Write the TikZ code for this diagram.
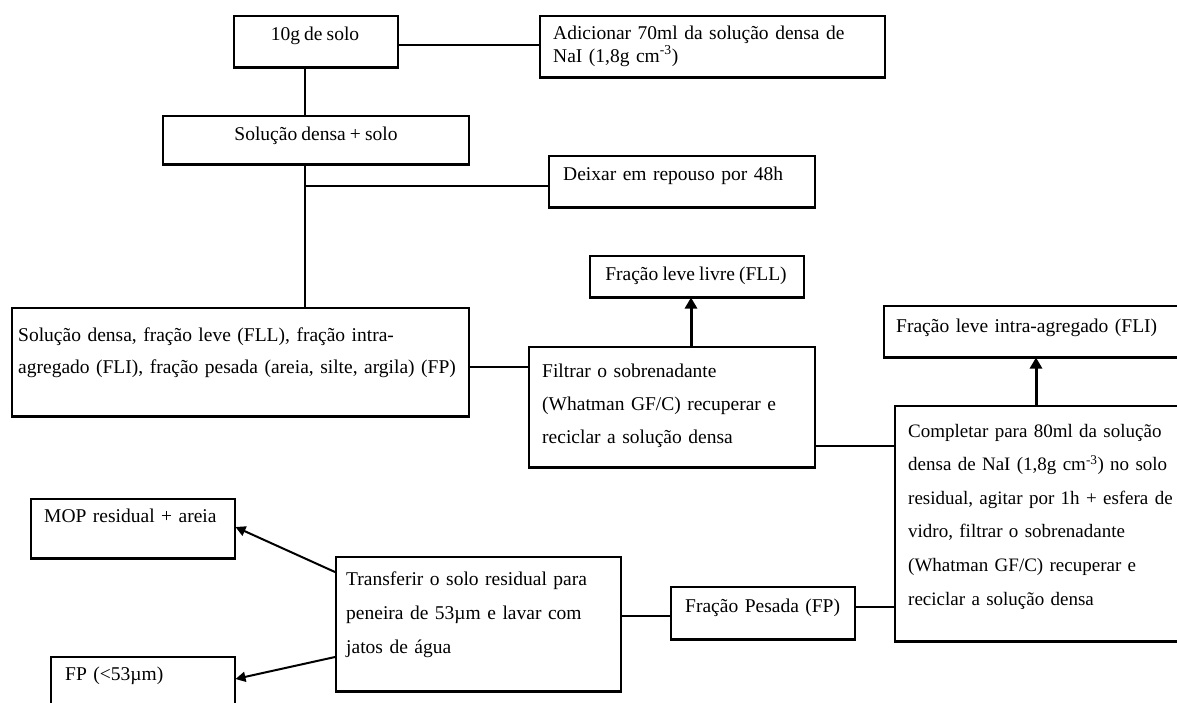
\documentclass[tikz,border=0pt]{standalone}
\usepackage{fontspec}
\setmainfont{Liberation Serif}[WordSpace=0.85]
\usetikzlibrary{arrows.meta,calc}
\begin{document}
\begin{tikzpicture}[x=1pt,y=-1pt,
  box/.style={draw, line width=1.5pt, inner sep=0pt, anchor=north west},
  txt/.style={inner sep=0pt, font=\fontsize{19.5pt}{33pt}\selectfont, align=left, text width=560pt, anchor=base west},
  ctxt/.style={inner sep=0pt, font=\fontsize{19.5pt}{23pt}\selectfont, anchor=base},
  ln/.style={line width=2.2pt},
  bot/.style={line width=2.4pt},
  arr/.style={line width=3pt, -{Triangle[width=12pt,length=11pt]}},
  darr/.style={line width=2pt, -{Triangle[width=10pt,length=10pt]}}]
\useasboundingbox (0,0) rectangle (1177,702);

% boxes
\node[box, minimum width=164pt, minimum height=51pt]  (b1)   at (233,15)  {};
\node[box, minimum width=345pt, minimum height=61pt]  (b2)   at (539,15)  {};
\node[box, minimum width=306pt, minimum height=48pt]  (b3)   at (162,115) {};
\node[box, minimum width=266pt, minimum height=51pt]  (dx)   at (548,155) {};
\node[box, minimum width=214pt, minimum height=41pt]  (fll)  at (589,255) {};
\node[box, minimum width=457pt, minimum height=108pt] (b5)   at (11,307)  {};
\node[box, minimum width=286pt, minimum height=120pt] (fil)  at (528,346) {};
\node[box, minimum width=330pt, minimum height=51pt]  (fli)  at (883,305) {};
\node[box, minimum width=310pt, minimum height=235pt] (comp) at (894,405) {};
\node[box, minimum width=184pt, minimum height=52pt]  (fp)   at (670,586) {};
\node[box, minimum width=285pt, minimum height=134pt] (tr)   at (335,556) {};
\node[box, minimum width=204pt, minimum height=59pt]  (mop)  at (30,498)  {};
\node[box, minimum width=184pt, minimum height=90pt]  (fps)  at (50,656)  {};

\foreach \n in {b1,b2,b3,dx,fll,b5,fil,fli,comp,fp,tr,mop}
  \draw[bot] (\n.south west) -- (\n.south east);

% texts
\node[ctxt] (t1) at (315,40) {10g de solo};
\node[txt, font=\fontsize{19.5pt}{23pt}\selectfont] (t2) at (553,39)
  {Adicionar 70ml da solução densa de\\NaI (1,8g cm\textsuperscript{-3})};
\node[ctxt] (t3) at (316,140) {Solução densa + solo};
\node[txt] (tdx) at (563,180) {Deixar em repouso por 48h};
\node[ctxt] (tfll) at (696,280) {Fração leve livre (FLL)};
\node[txt, font=\fontsize{19.5pt}{32pt}\selectfont] (t5) at (18,341)
  {Solução densa, fração leve (FLL), fração intra-\\agregado (FLI), fração pesada (areia, silte, argila) (FP)};
\node[txt, font=\fontsize{19.5pt}{33.3pt}\selectfont] (tfil) at (542,377)
  {Filtrar o sobrenadante\\(Whatman GF/C) recuperar e\\reciclar a solução densa};
\node[txt] (tfli) at (896,332) {Fração leve intra-agregado (FLI)};
\node[txt, font=\fontsize{19pt}{33.6pt}\selectfont] (tcomp) at (908,437)
  {Completar para 80ml da solução\\densa de NaI (1,8g cm\textsuperscript{-3}) no solo\\residual, agitar por 1h + esfera de\\vidro, filtrar o sobrenadante\\(Whatman GF/C) recuperar e\\reciclar a solução densa};
\node[txt] (tfp) at (685,612) {Fração Pesada (FP)};
\node[txt, font=\fontsize{19.5pt}{34pt}\selectfont] (ttr) at (346,585)
  {Transferir o solo residual para\\peneira de 53µm e lavar com\\jatos de água};
\node[txt] (tmop) at (44,522) {MOP residual + areia};
\node[txt] (tfps) at (65,680) {FP (<53µm)};

% connectors
\coordinate (h1) at (0,45);
\draw[ln] (b1.east |- h1) -- (b2.west |- h1);
\coordinate (sp) at (305,0);
\draw[ln] (sp |- b1.south) -- (sp |- b3.north);
\draw[ln] (sp |- b3.south) -- (sp |- b5.north);
\coordinate (j1) at (305,186);
\draw[ln] (j1) -- (j1 -| dx.west);
\coordinate (h2) at (0,367);
\draw[ln] (b5.east |- h2) -- (fil.west |- h2);
\coordinate (v1) at (691,0);
\draw[arr] (v1 |- fil.north) -- (v1 |- fll.south);
\coordinate (h3) at (0,446);
\draw[ln] (fil.east |- h3) -- (comp.west |- h3);
\coordinate (v2) at (1036,0);
\draw[arr] (v2 |- comp.north) -- (v2 |- fli.south);
\coordinate (h4) at (0,607);
\draw[ln] (fp.east |- h4) -- (comp.west |- h4);
\coordinate (h5) at (0,616);
\draw[ln] (tr.east |- h5) -- (fp.west |- h5);
\coordinate (h6) at (0,572);
\coordinate (h8) at (0,527);
\draw[darr] (tr.west |- h6) -- (mop.east |- h8);
\coordinate (h7) at (0,657);
\coordinate (h9) at (0,679);
\draw[darr] (tr.west |- h7) -- (fps.east |- h9);
\end{tikzpicture}
\end{document}
